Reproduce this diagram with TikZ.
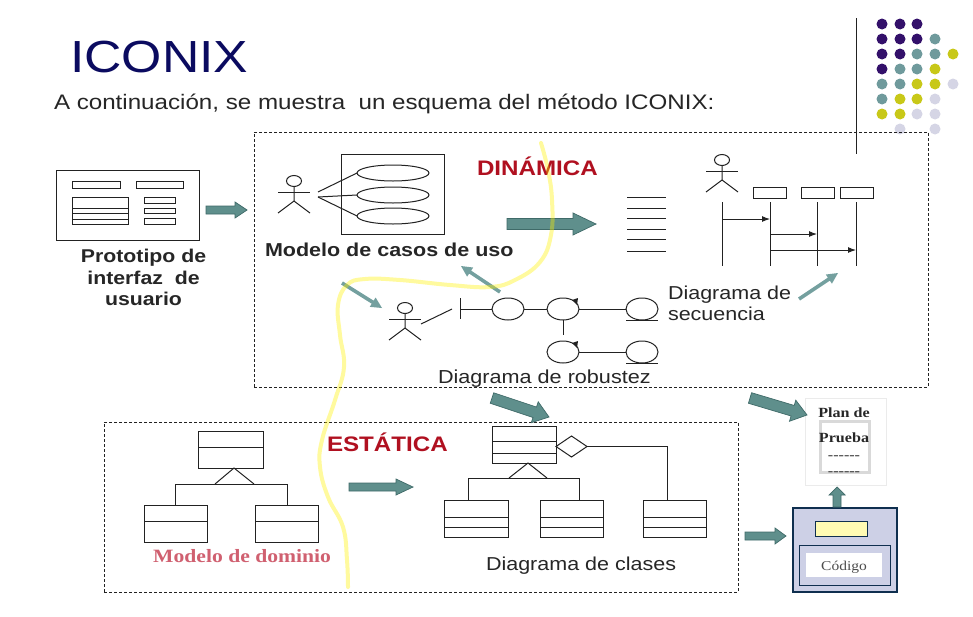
\documentclass[tikz,border=0pt]{standalone}
\usepackage{fontspec}
\setmainfont{Liberation Sans}
\newfontfamily\serifface{Liberation Serif}
\usetikzlibrary{calc,shapes.geometric,arrows.meta}
\definecolor{tealfill}{HTML}{5F8F8C}
\definecolor{tealline}{HTML}{3F6A68}
\definecolor{teallight}{HTML}{74A09F}
\definecolor{dotP}{HTML}{33106A}
\definecolor{dotT}{HTML}{6F9A9C}
\definecolor{dotY}{HTML}{C8C818}
\definecolor{dotL}{HTML}{D5D5E5}
\definecolor{inkline}{HTML}{222222}
\definecolor{titleblue}{HTML}{0B0B60}
\definecolor{redlabel}{HTML}{B01020}
\definecolor{pinklabel}{HTML}{D06070}
\definecolor{codefill}{HTML}{CDD0E6}
\definecolor{codeline}{HTML}{0F2F4F}
\tikzset{
  ln/.style={draw=inkline,line width=1pt},
  thinbox/.style={draw=inkline,line width=1pt,inner sep=0pt,outer sep=0pt},
  oval/.style={ellipse,draw=inkline,line width=1pt,inner sep=0pt,outer sep=0pt,minimum width=32pt,minimum height=22pt},
  usecase/.style={ellipse,draw=inkline,line width=1pt,inner sep=0pt,outer sep=0pt,minimum width=72pt,minimum height=16pt},
  frame/.style={draw=inkline,line width=0.8pt,dash pattern=on 3pt off 2pt},
  blockarr/.style={draw=tealline,line width=0.7pt,fill=tealfill},
  txt/.style={xscale=1.15,inner sep=0pt,outer sep=0pt,text=black!85,anchor=base west},
  stxt/.style={font=\serifface\bfseries,xscale=1.15,inner sep=0pt,text=black!85,anchor=base},
  dot/.style={circle,inner sep=0pt,minimum size=11pt},
  msg/.style={ln,-{Latex[length=8pt,width=6pt]}},
}
\newcommand\bx[6][]{%
  \pgfmathsetmacro\bxw{#5-#3}\pgfmathsetmacro\bxh{#6-#4}%
  \node[thinbox,minimum width=\bxw pt,minimum height=\bxh pt,#1] (#2) at ({(#3+#5)/2},{(#4+#6)/2}) {};}
\newcommand\blockarrow[5]{%
  \coordinate (hb) at ($(#2)!#5pt!(#1)$);
  \draw[blockarr] ($(#1)!#3pt!90:(#2)$) -- ($(hb)!#3pt!90:(#2)$) -- ($(hb)!#4pt!90:(#2)$) -- (#2)
    -- ($(hb)!#4pt!-90:(#2)$) -- ($(hb)!#3pt!-90:(#2)$) -- ($(#1)!#3pt!-90:(#2)$) -- cycle;}
\newcommand\actor[3]{%
  \node[ellipse,draw=inkline,line width=1pt,inner sep=0pt,minimum width=15pt,minimum height=11pt] (#1) at (#2,#3) {};
  \coordinate (#1hip) at ($(#1)+(0,20)$);
  \draw[ln] (#1.south) -- (#1hip) -- ($(#1)+(-16,32)$);
  \draw[ln] (#1hip) -- ($(#1)+(16,32)$);
  \draw[ln] ($(#1)+(-16,11)$) -- ($(#1)+(16,11)$);}
\newcommand\fs[1]{\fontsize{#1}{#1}\selectfont}
\begin{document}
\begin{tikzpicture}[x=1pt,y=-1pt]
\useasboundingbox (0,0) rectangle (973,616);
\fill[white] (0,0) rectangle (973,616);

% title
\node[txt,text=titleblue] (title) at (70,72) {\fs{45}ICONIX};
\node[txt] (sub) at (54,109) {\fs{21}A continuación, se muestra\ \ un esquema del método ICONIX:};

% corner dots
\foreach \c/\x/\y in {dotP/882/24,dotP/900/24,dotP/917/24,
  dotP/882/39,dotP/900/39,dotP/917/39,dotT/935/39,
  dotP/882/54,dotP/900/54,dotT/917/54,dotT/935/54,dotY/953/54,
  dotP/882/69,dotT/900/69,dotT/917/69,dotY/935/69,
  dotT/882/84,dotT/900/84,dotY/917/84,dotY/935/84,dotL/953/84,
  dotT/882/99,dotY/900/99,dotY/917/99,dotL/935/99,
  dotY/882/114,dotY/900/114,dotL/917/114,dotL/935/114,
  dotL/900/129,dotL/935/129}
  \node[dot,fill=\c] (d\x-\y) at (\x,\y) {};

% frames
\bx[frame]{dyn}{254}{132}{928}{387}
\bx[frame]{est}{104}{422}{738}{592}
\coordinate (vt) at (856,18);
\coordinate (vb) at (856,154);
\draw[ln] (vt) -- (vb);

% prototype
\bx{proto}{56}{170}{199}{240}
\bx{pa}{72}{181}{120}{188}
\bx{pb}{136}{181}{183}{188}
\bx{pc}{72}{197}{128}{224}
\bx{pd}{144}{197}{175}{203}
\bx{pe}{144}{208}{175}{213}
\bx{pf}{144}{218}{175}{224}
\foreach \y in {208,213,219}{\draw[ln] (pc.west |- 0,\y) -- (pc.east |- 0,\y);}
\node[xscale=1.15,inner sep=0pt,text=black!85,align=center,font=\bfseries\fontsize{18.5}{21.5}\selectfont] (ptxt) at (143.5,277.5) {Prototipo de\\interfaz\ \ de\\usuario};

% use cases
\actor{a1}{294}{181}
\bx{uc}{341}{154}{444}{234}
\node[usecase] (u1) at (393,173) {};
\node[usecase] (u2) at (393,195) {};
\node[usecase] (u3) at (393,216) {};
\coordinate (a1r) at (318,192);
\coordinate (a1s) at (318,197);
\draw[ln] (a1r) -- (u1.west);
\draw[ln] (a1s) -- (u2.west);
\draw[ln] (a1s) -- (u3.west);
\node[txt,font=\bfseries] (ucl) at (265,256) {\fs{18.7}Modelo de casos de uso};
\node[txt,font=\bfseries,text=redlabel] (din) at (477,175) {\fs{21}DINÁMICA};

% list
\foreach \y in {197,208,218.5,229.5,239.5,251}{\draw[ln] (627,\y) -- (666,\y);}

% sequence
\actor{a2}{722}{160}
\bx{s1}{753}{187}{786}{198}
\bx{s2}{801}{187}{834}{198}
\bx{s3}{840}{187}{873}{198}
\coordinate (l0t) at (722,202); \coordinate (l0b) at (722,266);
\coordinate (l1t) at (770,202); \coordinate (l1b) at (770,266);
\coordinate (l2t) at (817,202); \coordinate (l2b) at (817,266);
\coordinate (l3t) at (856,202); \coordinate (l3b) at (856,266);
\draw[ln] (l0t) -- (l0b);
\draw[ln] (l1t) -- (l1b);
\draw[ln] (l2t) -- (l2b);
\draw[ln] (l3t) -- (l3b);
\draw[msg] (722,219) -- (770,219);
\draw[msg] (770,234) -- (817,234);
\draw[msg] (770,250) -- (856,250);
\node[txt] (seq1) at (668,299) {\fs{18.7}Diagrama de};
\node[txt] (seq2) at (668,320) {\fs{18.7}secuencia};

% robustness
\actor{a3}{405}{308}
\coordinate (bt) at (460,298);
\coordinate (bb) at (460,319);
\coordinate (bm) at (460,309);
\coordinate (al) at (421,324);
\coordinate (ar) at (452,309);
\draw[ln] (al) -- (ar);
\draw[ln] (bt) -- (bb);
\node[oval] (r1) at (508,309) {};
\node[oval] (r2) at (563,309) {};
\node[oval] (r3) at (642,309) {};
\node[oval] (r4) at (563,352) {};
\node[oval] (r5) at (642,352) {};
\draw[ln] (bm) -- (r1);
\draw[ln] (r1) -- (r2);
\draw[ln] (r2) -- (r3);
\draw[ln] (r4) -- (r5);
\coordinate (r2d) at (563,335);
\draw[ln] (r2.south) -- (r2d);
\draw[ln] (r3.south) ++(-16,0) -- ++(32,0);
\draw[ln] (r5.south) ++(-16,0) -- ++(32,0);
\fill[inkline] (572,300) -- (578,298) -- (577,305) -- cycle;
\fill[inkline] (572,343) -- (578,341) -- (577,348) -- cycle;
\node[txt] (rob) at (438,383) {\fs{18.8}Diagrama de robustez};

% domain model
\bx{dm}{198}{431}{263}{468}
\draw[ln] (dm.west |- 0,447) -- (dm.east |- 0,447);
\bx{dl}{144}{505}{207}{542}
\draw[ln] (dl.west |- 0,521) -- (dl.east |- 0,521);
\bx{dr}{255}{505}{318}{542}
\draw[ln] (dr.west |- 0,521) -- (dr.east |- 0,521);
\coordinate (dta) at (234,468);
\draw[ln] (215,484) -- (dta) -- (254,484);
\coordinate (dll) at (175,484);
\coordinate (drr) at (287,484);
\draw[ln] (dl.north -| dll) -- (dll) -- (drr) -- (dr.north -| drr);
\node[stxt,text=pinklabel,anchor=base west] (dmt) at (153,562) {\fs{18.8}Modelo de dominio};
\node[txt,font=\bfseries,text=redlabel] (estl) at (327,451) {\fs{21}ESTÁTICA};

% class diagram
\bx{ct}{492}{426}{556}{463}
\draw[ln] (ct.west |- 0,441) -- (ct.east |- 0,441);
\draw[ln] (ct.west |- 0,453) -- (ct.east |- 0,453);
\foreach \n/\a/\b in {c1/444/508,c2/540/603,c3/643/706}{
  \bx{\n}{\a}{500}{\b}{537}
  \draw[ln] (\n.west |- 0,517) -- (\n.east |- 0,517);
  \draw[ln] (\n.west |- 0,527) -- (\n.east |- 0,527);
}
\coordinate (cta) at (528,463);
\draw[ln] (509,478) -- (cta) -- (547,478);
\coordinate (cll) at (468,478);
\coordinate (crr) at (579,478);
\draw[ln] (c1.north -| cll) -- (cll) -- (crr) -- (c2.north -| crr);
\node[diamond,draw=inkline,line width=1pt,inner sep=0pt,outer sep=0pt,minimum width=31pt,minimum height=21pt] (cd) at (571.5,446.5) {};
\coordinate (ccr) at (667,446.5);
\draw[ln] (cd.east) -- (ccr) -- (c3.north -| ccr);
\node[txt] (cdt) at (486,570) {\fs{18.7}Diagrama de clases};

% test plan
\bx[draw=black!8,fill=white]{plan}{805}{398}{886}{485}
\bx[draw=black!15,line width=3pt]{plani}{820}{421}{869}{472}
\node[stxt] (pl1) at (844,417) {\fs{14}Plan de};
\node[stxt] (pl2) at (844,442) {\fs{14}Prueba};
\node[stxt,text=black!70] (pl3) at (844,459) {\fs{14}------};
\node[stxt,text=black!70] (pl4) at (844,475) {\fs{14}------};

% code
\bx[draw=codeline,line width=2pt,fill=codefill]{code}{793}{508}{897}{592}
\bx[draw=codeline,fill=yellow!30,line width=1pt]{cy}{815}{521}{867}{536}
\bx[draw=codeline,line width=1pt]{cb}{799}{545}{890}{585}
\bx[draw=none,fill=white]{cw}{806}{553}{882}{577}
\node[font=\serifface,xscale=1.15,inner sep=0pt,text=black!70,anchor=base] (cdx) at (844,570) {\fs{13.5}Código};

% block arrows
\coordinate (e1a) at (206,210); \coordinate (e1b) at (247,210);
\blockarrow{e1a}{e1b}{4}{8}{12}
\coordinate (e2a) at (507,224); \coordinate (e2b) at (596,224);
\blockarrow{e2a}{e2b}{5.5}{11}{23}
\begin{scope}[blockarr/.style={draw=none,fill=teallight}]
\coordinate (e3a) at (342,283); \coordinate (e3b) at (382,308);
\blockarrow{e3a}{e3b}{1.8}{5.5}{11}
\coordinate (e4a) at (500,292); \coordinate (e4b) at (461,266);
\blockarrow{e4a}{e4b}{1.8}{5.5}{11}
\coordinate (e5a) at (799,299); \coordinate (e5b) at (838,273);
\blockarrow{e5a}{e5b}{1.8}{5.5}{11}
\end{scope}
\coordinate (e6a) at (492,398); \coordinate (e6b) at (549,417);
\blockarrow{e6a}{e6b}{5.5}{11}{15}
\coordinate (e7a) at (750,398); \coordinate (e7b) at (807,415);
\blockarrow{e7a}{e7b}{5.5}{11}{15}
\coordinate (e8a) at (349,487); \coordinate (e8b) at (413,487);
\blockarrow{e8a}{e8b}{4}{8}{17}
\coordinate (e9a) at (745,536); \coordinate (e9b) at (786,536);
\blockarrow{e9a}{e9b}{4}{8}{11}
\coordinate (e10a) at (837,507); \coordinate (e10b) at (837,487);
\blockarrow{e10a}{e10b}{4}{8}{8}

% yellow divider
\draw[draw=yellow,opacity=.38,line width=4pt,line cap=round]
  plot[smooth,tension=.7] coordinates {(541,143) (548,170) (552,200) (551,235) (540,262) (515,280) (490,287) (450,285) (400,280) (365,279) (347,285) (338,305) (340,335) (344,367) (335,400) (322,440) (320,467) (328,497) (343,527) (347,560) (348,587)};
\end{tikzpicture}
\end{document}
